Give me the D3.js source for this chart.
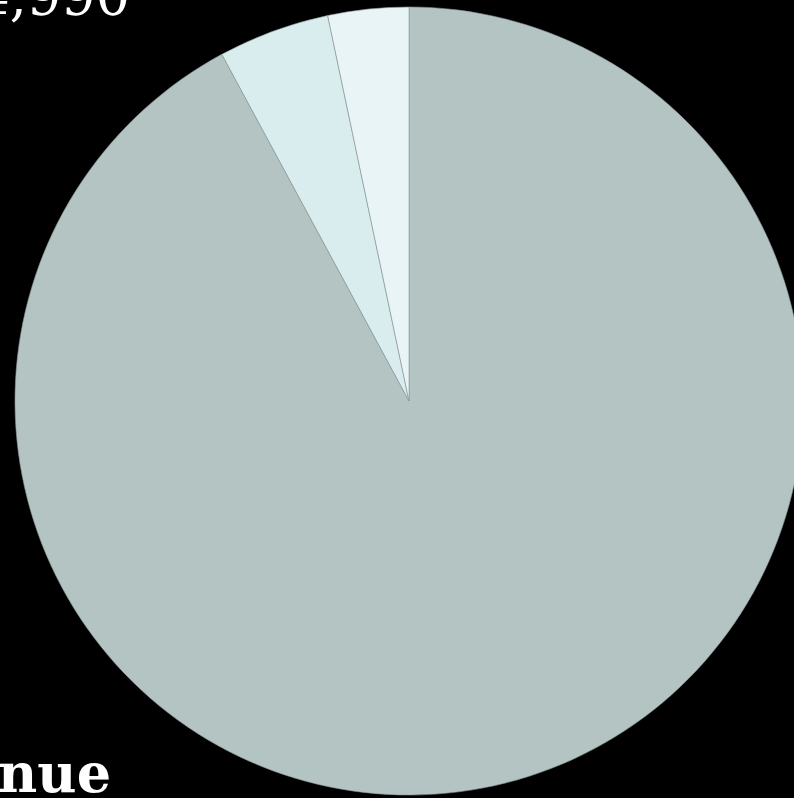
<!DOCTYPE html>
<html>
<head>
<meta charset="utf-8">
<script src="https://cdn.jsdelivr.net/npm/d3@7"></script>
<style>
  html, body { margin: 0; padding: 0; background: #000; }
  svg { display: block; }
</style>
</head>
<body>
<svg id="chart" width="794" height="798"></svg>
<script>
const categories = ["Segment A", "Segment B", "Segment C"];
const values = [92.12, 4.57, 3.31];
const colors = ["#b4c4c3", "#d9ecee", "#e8f4f5"];
const valueLabel = "$4,990";
const titleLabel = "Revenue";

const svg = d3.select("#chart");
const cx = 409, cy = 401, radius = 394;

const pie = d3.pie().sort(null).value(d => d.value);
const arc = d3.arc().innerRadius(0).outerRadius(radius);
const color = d3.scaleOrdinal().domain(categories).range(colors);

const data = categories.map((c, i) => ({ category: c, value: values[i] }));

svg.append("g")
  .attr("transform", `translate(${cx},${cy})`)
  .selectAll("path")
  .data(pie(data))
  .join("path")
  .attr("d", arc)
  .attr("fill", d => color(d.data.category))
  .attr("stroke", "#8b9b9b")
  .attr("stroke-width", 0.6);

svg.append("text")
  .attr("x", 130)
  .attr("y", 15)
  .attr("text-anchor", "end")
  .attr("fill", "#ffffff")
  .attr("font-family", "DejaVu Serif, Liberation Serif, serif")
  .attr("font-size", 54)
  .text(valueLabel);

svg.append("text")
  .attr("x", 111)
  .attr("y", 792)
  .attr("text-anchor", "end")
  .attr("fill", "#ffffff")
  .attr("font-family", "DejaVu Serif, Liberation Serif, serif")
  .attr("font-weight", "bold")
  .attr("font-size", 54)
  .text(titleLabel);
</script>
</body>
</html>
